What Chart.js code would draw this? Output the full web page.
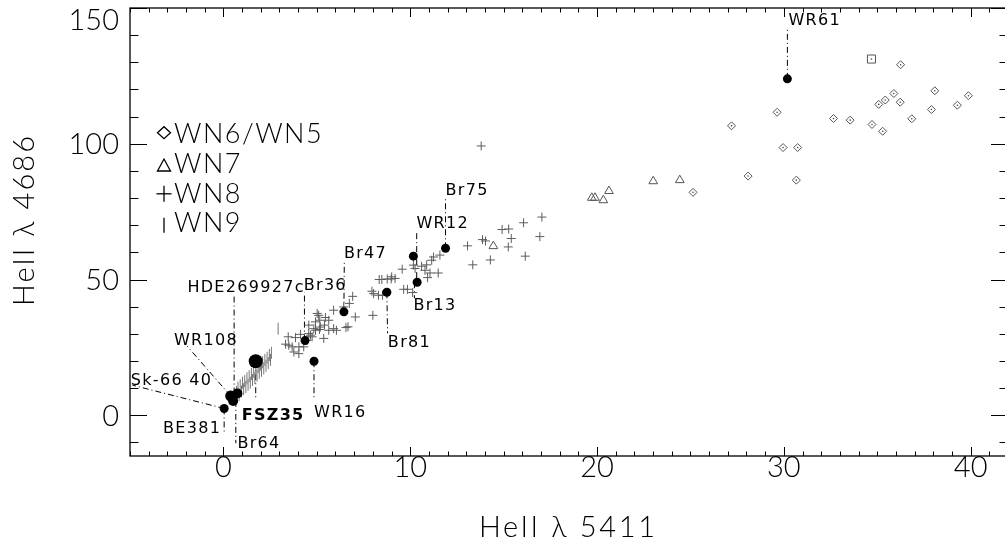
<!DOCTYPE html>
<html>
<head>
<meta charset="utf-8">
<script src="https://cdn.jsdelivr.net/npm/chart.js@4.4.1/dist/chart.umd.min.js"></script>
<style>
  html, body { margin: 0; padding: 0; background: #fff; overflow: hidden; }
  #wrap { width: 1015px; height: 544px; }
</style>
</head>
<body>
<div id="wrap"><canvas id="heChart" width="1015" height="544"></canvas></div>
<script>
// HeII 5411 vs HeII 4686, WN stars by subtype
const xRange = [-5, 42];
const yRange = [-15, 150];
const xTicks = [0, 10, 20, 30, 40];
const yTicks = [0, 50, 100, 150];

const wn65 = [[25.14,82.1],[27.2,106.6],[28.09,88.1],[29.64,111.6],[29.96,98.6],[30.74,98.6],[30.67,86.6],
  [32.66,109.3],[33.55,108.7],[34.72,107.1],[35.29,104.6],[35.08,114.5],[35.43,116.1],[35.89,118.5],
  [36.23,115.3],[36.25,129.1],[36.85,109.2],[37.9,112.6],[38.08,119.5],[39.29,114.2],[39.88,117.7]];
const wn7 = [[14.45,62.3],[19.72,80.1],[19.89,80.1],[20.34,79.2],[20.64,82.6],[23.01,86.2],[24.43,86.6]];
const wn8 = [[3.33,26.2],[3.47,28.9],[3.50,25.8],[3.68,25.2],[3.77,23.3],[3.86,28.6],[4.04,22.7],[4.04,25.2],
  [4.13,29.8],[4.30,25.2],[4.48,27.6],[4.57,30.1],[4.57,33.2],[4.66,29.5],[4.75,28.9],[4.84,31.9],[4.93,34.4],
  [4.93,31.3],[5.02,37.5],[5.10,36.8],[5.14,31.6],[5.16,35.0],[5.19,32.5],[5.37,28.3],[5.41,33.2],[5.46,36.0],
  [5.64,31.3],[5.64,35.0],[5.90,38.7],[5.90,31.9],[6.05,31.3],[6.44,39.9],[6.56,32.3],[6.67,32.6],[6.74,41.2],
  [6.92,43.8],[7.06,36.2],[8.00,36.8],[7.95,45.7],[8.04,44.8],[8.30,44.2],[8.52,44.2],[8.34,50.0],[8.48,50.0],
  [8.77,50.2],[8.98,50.2],[9.01,51.0],[9.19,50.4],[9.57,53.8],[9.65,46.4],[9.85,46.4],[10.13,45.2],
  [10.17,55.3],[10.26,54.1],[10.61,54.9],[10.79,53.4],[10.88,55.4],[10.93,50.7],[11.06,52.4],[11.15,57.1],
  [11.25,58.3],[11.50,52.4],[11.59,59.0],[13.07,62.4],[13.35,55.4],[13.80,99.2],[13.87,64.7],[14.03,64.2],
  [14.29,57.2],[14.92,68.4],[15.25,62.0],[15.27,68.6],[15.41,65.1],[16.07,70.9],[16.16,58.6],[16.94,65.8],[17.05,73.0]];
const wn9 = [[0.70,8.6],[0.78,10.2],[0.84,7.4],[0.90,11.0],[0.97,8.8],[1.02,12.0],[1.08,9.6],[1.14,12.6],
  [1.20,10.4],[1.26,13.6],[1.32,11.2],[1.38,14.4],[1.44,12.0],[1.50,15.2],[1.56,13.0],[1.62,16.0],[1.68,13.8],
  [1.74,16.9],[1.80,14.6],[1.86,17.8],[1.92,15.6],[1.98,18.6],[2.04,16.4],[2.10,19.5],[2.16,17.3],[2.22,20.4],
  [2.28,18.2],[2.34,21.2],[2.40,19.2],[2.46,22.2],[2.52,20.4],[2.57,23.0],[2.93,31.9]];
const squarePts = [[34.69,131.2]];

// labelled stars (filled circles)
const starNames = ['WR61','Br75','WR12','Br13','Br47','Br81','Br36','WR16','FSZ35','WR108','HDE269927c','Br64','BE381'];
const starX = [30.19, 11.89, 10.17, 10.37, 6.45, 8.75, 4.37, 4.85, 1.73, 0.39, 0.75, 0.52, 0.04];
const starY = [123.9, 61.5, 58.6, 49.0, 38.1, 45.3, 27.5, 19.9, 19.9, 7.1, 8.0, 5.3, 2.5];

// marker radius per star and label placement (pixel offsets from the dot)
const starRadius = [4.5, 4.5, 4.5, 4.5, 4.5, 4.5, 4.5, 4.5, 7, 5.5, 5, 5, 4.5];
const labels = [
  { text: 'WR61', of: 'WR61', ex: 0, ey: -52, tx: 1, ty: -53.7 },
  { text: 'Br75', of: 'Br75', ex: 0, ey: -51, tx: 0, ty: -53 },
  { text: 'WR12', of: 'WR12', sx: 3.3, sy: 22, ex: 3.3, ey: -26, tx: 3, ty: -27.7 },
  { text: 'Br13', of: 'Br13', sx: -2.7, ex: -2.7, ey: 16, tx: -3.7, ty: 28 },
  { text: 'Br47', of: 'Br47', ex: 0.4, ey: -50.7, tx: 0, ty: -53.4 },
  { text: 'Br81', of: 'Br81', ex: 0.7, ey: 41, tx: 1, ty: 54.7 },
  { text: 'Br36', of: 'Br36', sx: -0.6, ex: -0.6, ey: -48.3, tx: -1.3, ty: -50.3 },
  { text: 'WR16', of: 'WR16', ex: 0, ey: 39, tx: 0, ty: 55.7 },
  { text: 'FSZ35', of: 'FSZ35', ex: 0, ey: 39, tx: -14, ty: 59, bold: true },
  { text: 'WR108', of: 'WR108', ex: -43.4, ey: -49.7, tx: -56.7, ty: -50.7 },
  { text: 'HDE269927c', of: 'HDE269927c', sx: -3.3, ex: -3.3, ey: -99.3, tx: -50, ty: -101.3 },
  { text: 'Br64', of: 'Br64', sx: 2.7, ex: 2.7, ey: 42.3, tx: 4.3, ty: 47.3 },
  { text: 'BE381', of: 'BE381', ex: 0, ey: 25.7, tx: -3, ty: 25, right: true },
  { text: 'Sk-66 40', of: 'BE381', ex: -91.7, ey: -23.3, tx: -93.3, ty: -23.3 }
];

const legendRows = ['WN6/WN5', 'WN7', 'WN8', 'WN9'];
const xTitle = 'HeII λ 5411';
const yTitle = 'HeII λ 4686';

const pts = a => a.map(p => ({ x: p[0], y: p[1] }));

function line(ctx, x1, y1, x2, y2) {
  ctx.beginPath(); ctx.moveTo(x1, y1); ctx.lineTo(x2, y2); ctx.stroke();
}

// draw text with spacing stretched so it spans a given width
function fitText(ctx, text, x, y, width) {
  ctx.letterSpacing = '0px';
  const w = ctx.measureText(text).width;
  const sp = (width - w) / (text.length - 1);
  ctx.letterSpacing = sp + 'px';
  ctx.textAlign = 'left';
  ctx.fillText(text, x - width / 2, y);
  ctx.letterSpacing = '0px';
}

const idlAxes = {
  id: 'idlAxes',
  beforeDatasetsDraw(chart) {
    const ctx = chart.ctx, xs = chart.scales.x, ys = chart.scales.y;
    ctx.save();
    ctx.strokeStyle = '#000';
    ctx.lineWidth = 1;
    ctx.setLineDash([6, 3, 1, 3]);
    labels.forEach(l => {
      const i = starNames.indexOf(l.of);
      const px = xs.getPixelForValue(starX[i]), py = ys.getPixelForValue(starY[i]);
      line(ctx, px + (l.sx || 0), py + (l.sy || 0), px + l.ex, py + l.ey);
    });
    ctx.restore();
  },
  afterDatasetsDraw(chart) {
    const ctx = chart.ctx, xs = chart.scales.x, ys = chart.scales.y;
    const { left, right, top, bottom } = chart.chartArea;
    ctx.save();
    ctx.strokeStyle = '#000';
    ctx.lineWidth = 1.3;
    ctx.strokeRect(left, top, right - left, bottom - top);
    ctx.lineWidth = 1;
    for (let v = Math.ceil(xRange[0]); v <= xRange[1]; v++) {
      const px = Math.round(xs.getPixelForValue(v)) + 0.5;
      const len = xTicks.includes(v) ? 9 : 4.5;
      line(ctx, px, bottom, px, bottom - len);
      line(ctx, px, top, px, top + len);
    }
    for (let v = -10; v <= yRange[1]; v += 10) {
      const py = Math.round(ys.getPixelForValue(v)) + 0.5;
      const len = yTicks.includes(v) ? 17 : 8.5;
      line(ctx, left, py, left + len, py);
      line(ctx, right, py, right - len, py);
    }

    // tick labels
    ctx.fillStyle = '#000';
    ctx.font = '300 29px Lato';
    ctx.textAlign = 'right';
    ctx.textBaseline = 'alphabetic';
    yTicks.forEach(v => {
      const py = Math.max(ys.getPixelForValue(v), top + 11.5);
      ctx.fillText(String(v), 119, py + 10.4);
    });
    ctx.textAlign = 'center';
    xTicks.forEach(v => ctx.fillText(String(v), xs.getPixelForValue(v), 477));

    // axis titles
    ctx.font = '300 29px Lato';
    fitText(ctx, xTitle, 567, 537, 176);
    ctx.save();
    ctx.translate(34, 221);
    ctx.rotate(-Math.PI / 2);
    fitText(ctx, yTitle, 0, 0, 170);
    ctx.restore();

    // legend
    ctx.font = '300 27px Lato';
    ctx.letterSpacing = '0px';
    const sp = (147.6 - ctx.measureText(legendRows[0]).width) / 6;
    ctx.letterSpacing = sp + 'px';
    ctx.textAlign = 'left';
    const rowY = [132.7, 163.5, 192.8, 222.2];
    legendRows.forEach((t, i) => ctx.fillText(t, 174, rowY[i] + 9.8));
    ctx.letterSpacing = '0px';
    ctx.lineWidth = 1.3;
    const cx = 164;
    let y = rowY[0];
    ctx.beginPath();
    ctx.moveTo(cx - 6.5, y); ctx.lineTo(cx, y - 6); ctx.lineTo(cx + 6.5, y); ctx.lineTo(cx, y + 6); ctx.closePath();
    ctx.stroke();
    y = rowY[1] + 2;
    ctx.beginPath();
    ctx.moveTo(cx - 6.5, y + 5.5); ctx.lineTo(cx, y - 6.5); ctx.lineTo(cx + 6.5, y + 5.5); ctx.closePath();
    ctx.stroke();
    y = rowY[2] + 1;
    line(ctx, cx - 7.5, y, cx + 7.5, y);
    line(ctx, cx, y - 8, cx, y + 8);
    y = rowY[3] + 3;
    line(ctx, cx, y - 7.5, cx, y + 7.5);

    // star labels
    ctx.letterSpacing = '1.3px';
    labels.forEach(l => {
      const i = starNames.indexOf(l.of);
      const px = xs.getPixelForValue(starX[i]), py = ys.getPixelForValue(starY[i]);
      ctx.font = l.bold ? 'bold 16px "DejaVu Sans"' : '16px "DejaVu Sans"';
      ctx.textAlign = l.right ? 'right' : 'left';
      ctx.fillText(l.text, px + l.tx, py + l.ty);
    });
    ctx.restore();
  }
};

const ctx = document.getElementById('heChart').getContext('2d');
const heChart = new Chart(ctx, {
  type: 'scatter',
  data: {
    datasets: [
      {
        label: 'stars',
        data: starX.map((x, i) => ({ x: x, y: starY[i] })),
        pointStyle: 'circle',
        pointRadius: c => starRadius[c.dataIndex],
        backgroundColor: '#000',
        borderColor: '#000',
        borderWidth: 0
      },
      {
        label: 'square centre',
        data: pts(squarePts),
        pointRadius: 0.8,
        backgroundColor: '#444',
        borderWidth: 0
      },
      {
        label: 'square',
        data: pts(squarePts),
        pointStyle: 'rect',
        pointRadius: 5.7,
        backgroundColor: 'rgba(0,0,0,0)',
        borderColor: '#555',
        borderWidth: 1
      },
      {
        label: 'WN6/WN5 centre',
        data: pts(wn65),
        pointRadius: 0.8,
        backgroundColor: '#444',
        borderWidth: 0
      },
      {
        label: 'WN6/WN5',
        data: pts(wn65),
        pointStyle: 'rectRot',
        pointRadius: 4,
        backgroundColor: 'rgba(0,0,0,0)',
        borderColor: '#555',
        borderWidth: 1
      },
      {
        label: 'WN7',
        data: pts(wn7),
        pointStyle: 'triangle',
        pointRadius: 5,
        backgroundColor: 'rgba(0,0,0,0)',
        borderColor: '#555',
        borderWidth: 1
      },
      {
        label: 'WN8',
        data: pts(wn8),
        pointStyle: 'cross',
        pointRadius: 4.5,
        borderColor: '#5c5c5c',
        borderWidth: 1
      },
      {
        label: 'WN9',
        data: pts(wn9),
        pointStyle: 'line',
        rotation: 90,
        pointRadius: 6,
        borderColor: '#777',
        borderWidth: 1
      }
    ]
  },
  options: {
    responsive: false,
    animation: false,
    events: [],
    layout: { padding: { left: 130, right: 3, top: 8, bottom: 88 } },
    plugins: { legend: { display: false }, tooltip: { enabled: false } },
    scales: {
      x: { type: 'linear', min: xRange[0], max: xRange[1], display: false },
      y: { type: 'linear', min: yRange[0], max: yRange[1], display: false }
    }
  },
  plugins: [idlAxes]
});
</script>
</body>
</html>
